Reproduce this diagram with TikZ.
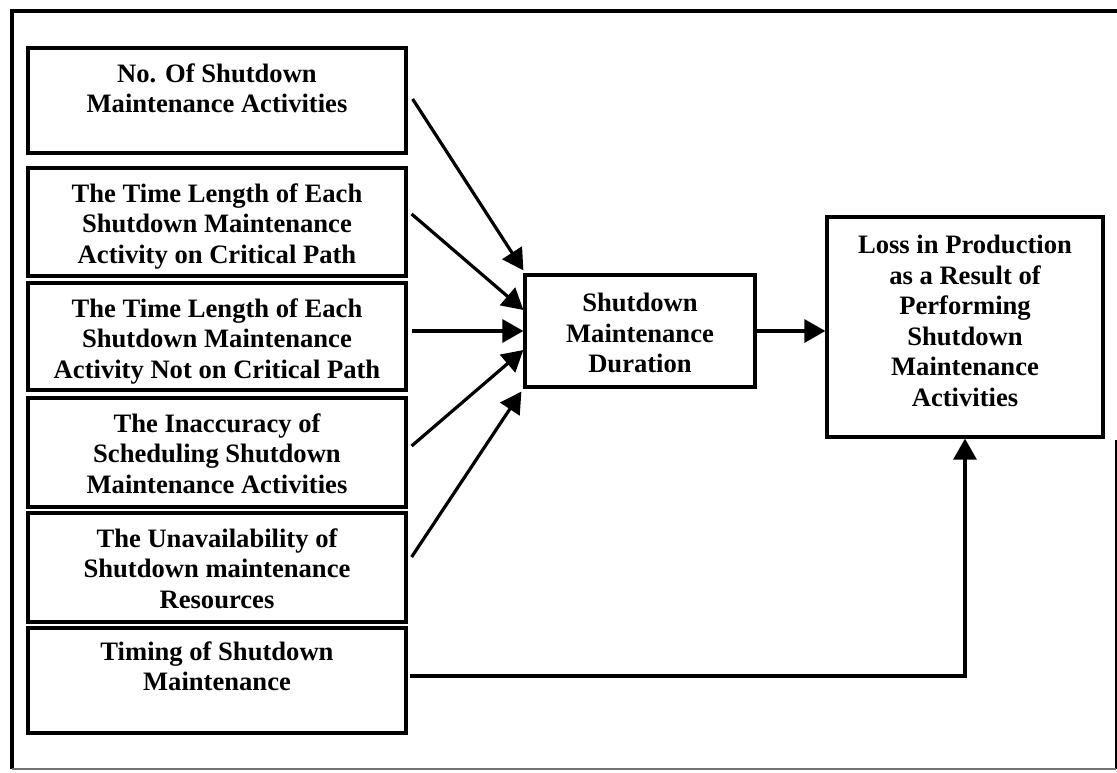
\documentclass[tikz,border=0pt]{standalone}
\usepackage{fontspec}
\setmainfont{Liberation Serif}
\usetikzlibrary{arrows.meta,calc}
\begin{document}
\begin{tikzpicture}[x=1pt,y=1pt,
  box/.style={draw, line width=3.2pt, inner sep=0pt},
  factor/.style={box, minimum width=378pt},
  lbl/.style={font=\fontsize{26.6}{30.5}\selectfont\bfseries, align=center, inner sep=0pt, anchor=north},
  link/.style={line width=3.2pt, -{Triangle[length=21pt,width=23pt]}}
]
\useasboundingbox (0,0) rectangle (1117,772);

% outer frame
\draw[line width=4.5pt] (12,3) -- (12,761) -- (1117,761);
\draw[line width=3pt] (1116,3) -- (1116,332);
\draw[line width=2pt, black!55] (12,3) -- (1116,3);

% contributing factors
\node[factor, minimum height=105pt] (f1) at (217,671.5) {};
\node[factor, minimum height=108pt] (f2) at (217,550) {};
\node[factor, minimum height=107pt] (f3) at (217,435.5) {};
\node[factor, minimum height=109pt] (f4) at (217,319.5) {};
\node[factor, minimum height=109pt] (f5) at (217,204.5) {};
\node[factor, minimum height=105pt] (f6) at (217,91.5) {};

\node[lbl] (t1) at ($(f1.north)+(0,-17)$) {No. Of Shutdown\\Maintenance Activities};
\node[lbl] (t2) at ($(f2.north)+(0,-17)$) {The Time Length of Each\\Shutdown Maintenance\\Activity on Critical Path};
\node[lbl] (t3) at ($(f3.north)+(0,-17)$) {The Time Length of Each\\Shutdown Maintenance\\Activity Not on Critical Path};
\node[lbl] (t4) at ($(f4.north)+(0,-17)$) {The Inaccuracy of\\Scheduling Shutdown\\Maintenance Activities};
\node[lbl] (t5) at ($(f5.north)+(0,-17)$) {The Unavailability of\\Shutdown maintenance\\Resources};
\node[lbl] (t6) at ($(f6.north)+(0,-15)$) {Timing of Shutdown\\Maintenance};

% duration and loss
\node[box, minimum width=230pt, minimum height=112pt] (dur) at (640,441) {};
\node[lbl] (tdur) at (640,479) {Shutdown\\Maintenance\\Duration};
\node[box, minimum width=276pt, minimum height=220pt] (res) at (965,445) {};
\node[lbl] (tres) at (965,537) {Loss in Production\\as a Result of\\Performing\\Shutdown\\Maintenance\\Activities};

% connectors
\draw[link] ($(f1.east)+(5,1.5)$) -- ($(dur.north west)+(0,3)$);
\draw[link] ($(f2.east)+(4,8)$) -- ($(dur.west)+(0,21)$);
\draw[link] ($(f3.east)+(4,5.5)$) -- (dur.west);
\draw[link] ($(f4.east)+(4,6.5)$) -- ($(dur.west)+(0,-19)$);
\draw[link] ($(f5.east)+(4,10.5)$) -- ($(dur.south west)+(-2,-3)$);
\draw[link] (dur.east) -- (res.west |- dur.east);
\draw[link] ($(f6.east)+(2,4.5)$) -| (res.south);
\end{tikzpicture}
\end{document}
